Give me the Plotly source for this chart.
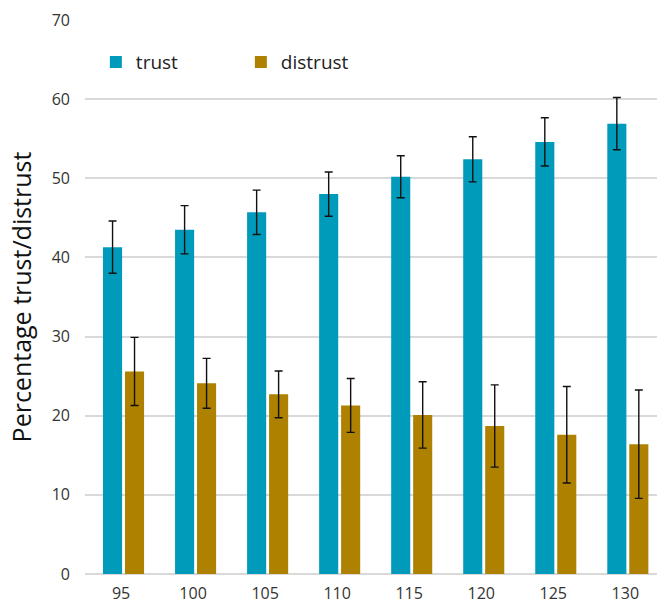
import plotly.graph_objects as go

categories = ["95", "100", "105", "110", "115", "120", "125", "130"]
trust = [41.3, 43.5, 45.7, 48.0, 50.2, 52.4, 54.6, 56.9]
trust_err = [3.3, 3.05, 2.8, 2.8, 2.65, 2.85, 3.05, 3.3]
distrust = [25.6, 24.1, 22.7, 21.3, 20.1, 18.7, 17.6, 16.4]
distrust_err = [4.3, 3.15, 2.95, 3.4, 4.2, 5.2, 6.1, 6.85]
y_ticks = [0, 10, 20, 30, 40, 50, 60, 70]

TRUST_COLOR = "#009BBB"
DISTRUST_COLOR = "#AE8200"
FONT = "Open Sans, DejaVu Sans, sans-serif"

fig = go.Figure()
fig.add_trace(go.Bar(
    x=categories, y=trust, name="trust",
    marker=dict(color=TRUST_COLOR, line=dict(width=0)),
    width=0.265, offset=-0.25,
    error_y=dict(type="data", array=trust_err, color="#111111", thickness=1.4, width=4),
))
fig.add_trace(go.Bar(
    x=categories, y=distrust, name="distrust",
    marker=dict(color=DISTRUST_COLOR, line=dict(width=0)),
    width=0.265, offset=0.055,
    error_y=dict(type="data", array=distrust_err, color="#111111", thickness=1.4, width=4),
))

fig.update_layout(
    width=657, height=603,
    margin=dict(l=85, r=0, t=20, b=29, pad=0),
    paper_bgcolor="white", plot_bgcolor="white",
    font=dict(family=FONT, color="#333333", size=16),
    barmode="group",
    showlegend=True,
    legend=dict(
        orientation="h", x=0.019, y=0.924, xanchor="left", yanchor="middle",
        entrywidth=100, entrywidthmode="pixels",
        font=dict(size=19, color="#222222", family=FONT),
        bgcolor="rgba(0,0,0,0)",
    ),
    xaxis=dict(
        type="category", range=[-0.5, 7.44],
        showgrid=False, showline=False, ticks="", ticklabelstandoff=8,
        tickfont=dict(size=16, color="#333333"),
    ),
    yaxis=dict(
        range=[0, 70], tickvals=y_ticks,
        showgrid=True, gridcolor="#D9D9D9", gridwidth=1.5,
        zeroline=True, zerolinecolor="#D9D9D9", zerolinewidth=2,
        showline=False, ticks="", ticklabelstandoff=14,
        tickfont=dict(size=16, color="#333333"),
        title=dict(text="Percentage trust/distrust", font=dict(size=25, color="#111111"), standoff=12),
    ),
)

fig.write_html("out.html")
